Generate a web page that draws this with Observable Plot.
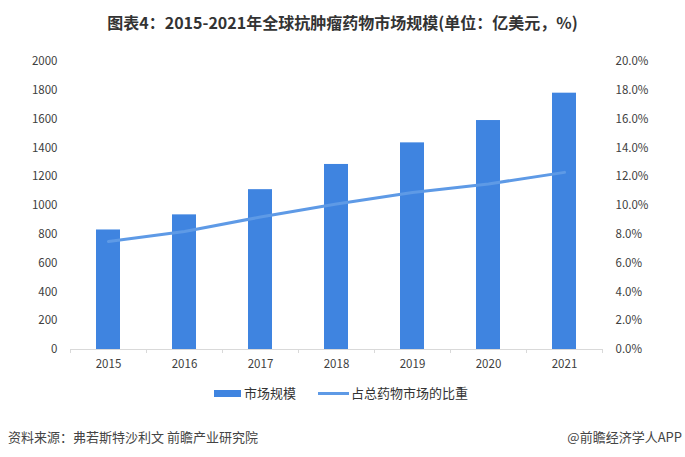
<!DOCTYPE html>
<html>
<head>
<meta charset="utf-8">
<script src="https://cdn.jsdelivr.net/npm/d3@7"></script>
<script src="https://cdn.jsdelivr.net/npm/@observablehq/plot@0.6"></script>
<style>
  html, body { margin: 0; padding: 0; background: #fff; }
  #page { position: relative; width: 685px; height: 457px; overflow: hidden; font-family: "Noto Sans CJK SC", sans-serif; }
  #title { position: absolute; left: 0; width: 685px; top: 9px; line-height: 26px; text-align: center; font-size: 16px; font-weight: bold; color: #333; }
  #chart { position: absolute; left: 0; top: 45px; }
  .lg { position: absolute; font-size: 13px; color: #333; line-height: 18px; top: 384px; }
  .sw { position: absolute; }
  .foot { position: absolute; top: 428px; font-size: 13px; color: #444; line-height: 18px; }
</style>
</head>
<body>
<div id="page">
  <div id="title"></div>
  <div id="chart"></div>
  <div class="sw" id="sw1" style="left:214px; top:390px; width:27px; height:7px;"></div>
  <div class="lg" id="lg1" style="left:244px;"></div>
  <div class="sw" id="sw2" style="left:318px; top:392px; width:31px; height:3px;"></div>
  <div class="lg" id="lg2" style="left:351px;"></div>
  <div class="foot" id="src" style="left:8px;"></div>
  <div class="foot" id="brand" style="right:3px;"></div>
</div>
<script>
const titleText = "图表4：2015-2021年全球抗肿瘤药物市场规模(单位：亿美元，%)";
const years = ["2015", "2016", "2017", "2018", "2019", "2020", "2021"];
const marketSize = [830, 935, 1110, 1285, 1435, 1590, 1780];
const sharePct = [7.5, 8.2, 9.2, 10.1, 10.9, 11.5, 12.3];
const leftTicks = [0, 200, 400, 600, 800, 1000, 1200, 1400, 1600, 1800, 2000];
const rightTicks = [0, 2, 4, 6, 8, 10, 12, 14, 16, 18, 20];
const seriesNames = ["市场规模", "占总药物市场的比重"];
const sourceText = "资料来源：弗若斯特沙利文 前瞻产业研究院";
const brandText = "@前瞻经济学人APP";

const barColor = "#3f84e0";
const lineColor = "#5e9ae6";
const axisColor = "#d9d9d9";

// secondary axis: percent mapped onto primary scale (20% <-> 2000)
const k = 2000 / 20;

document.getElementById("title").textContent = titleText;
document.getElementById("lg1").textContent = seriesNames[0];
document.getElementById("lg2").textContent = seriesNames[1];
document.getElementById("sw1").style.background = barColor;
document.getElementById("sw2").style.background = lineColor;
document.getElementById("src").textContent = sourceText;
document.getElementById("brand").textContent = brandText;

const rows = years.map((y, i) => ({year: y, size: marketSize[i], share: sharePct[i]}));

const chart = Plot.plot({
  width: 685,
  height: 330,
  marginTop: 16,
  marginBottom: 26,
  marginLeft: 70,
  marginRight: 83,
  style: {fontFamily: "'Noto Sans CJK SC', sans-serif", fontSize: "11.5px", color: "#404040", background: "transparent"},
  x: {domain: years, paddingInner: 0.684, paddingOuter: 0.342},
  y: {domain: [0, 2000]},
  marks: [
    Plot.barY(rows, {x: "year", y: "size", fill: barColor}),
    Plot.ruleY([0], {stroke: axisColor, strokeWidth: 1}),
    Plot.ruleX(years, {x: d => d, dx: -38, y1: 0, y2: 0, insetBottom: -4, stroke: axisColor}),
    Plot.ruleX([years[years.length - 1]], {x: d => d, dx: 38, y1: 0, y2: 0, insetBottom: -4, stroke: axisColor}),
    Plot.line(rows, {x: "year", y: d => d.share * k, stroke: lineColor, strokeWidth: 3}),
    Plot.axisX({tickSize: 0, tickPadding: 10, label: null}),
    Plot.axisY(leftTicks, {anchor: "left", tickSize: 0, tickPadding: 13, label: null, tickFormat: d => String(d)}),
    Plot.axisY(rightTicks.map(v => v * k), {anchor: "right", tickSize: 0, tickPadding: 13, label: null, textAnchor: "start", tickFormat: d => (d / k).toFixed(1) + "%"})
  ]
});
document.getElementById("chart").appendChild(chart);
</script>
</body>
</html>
